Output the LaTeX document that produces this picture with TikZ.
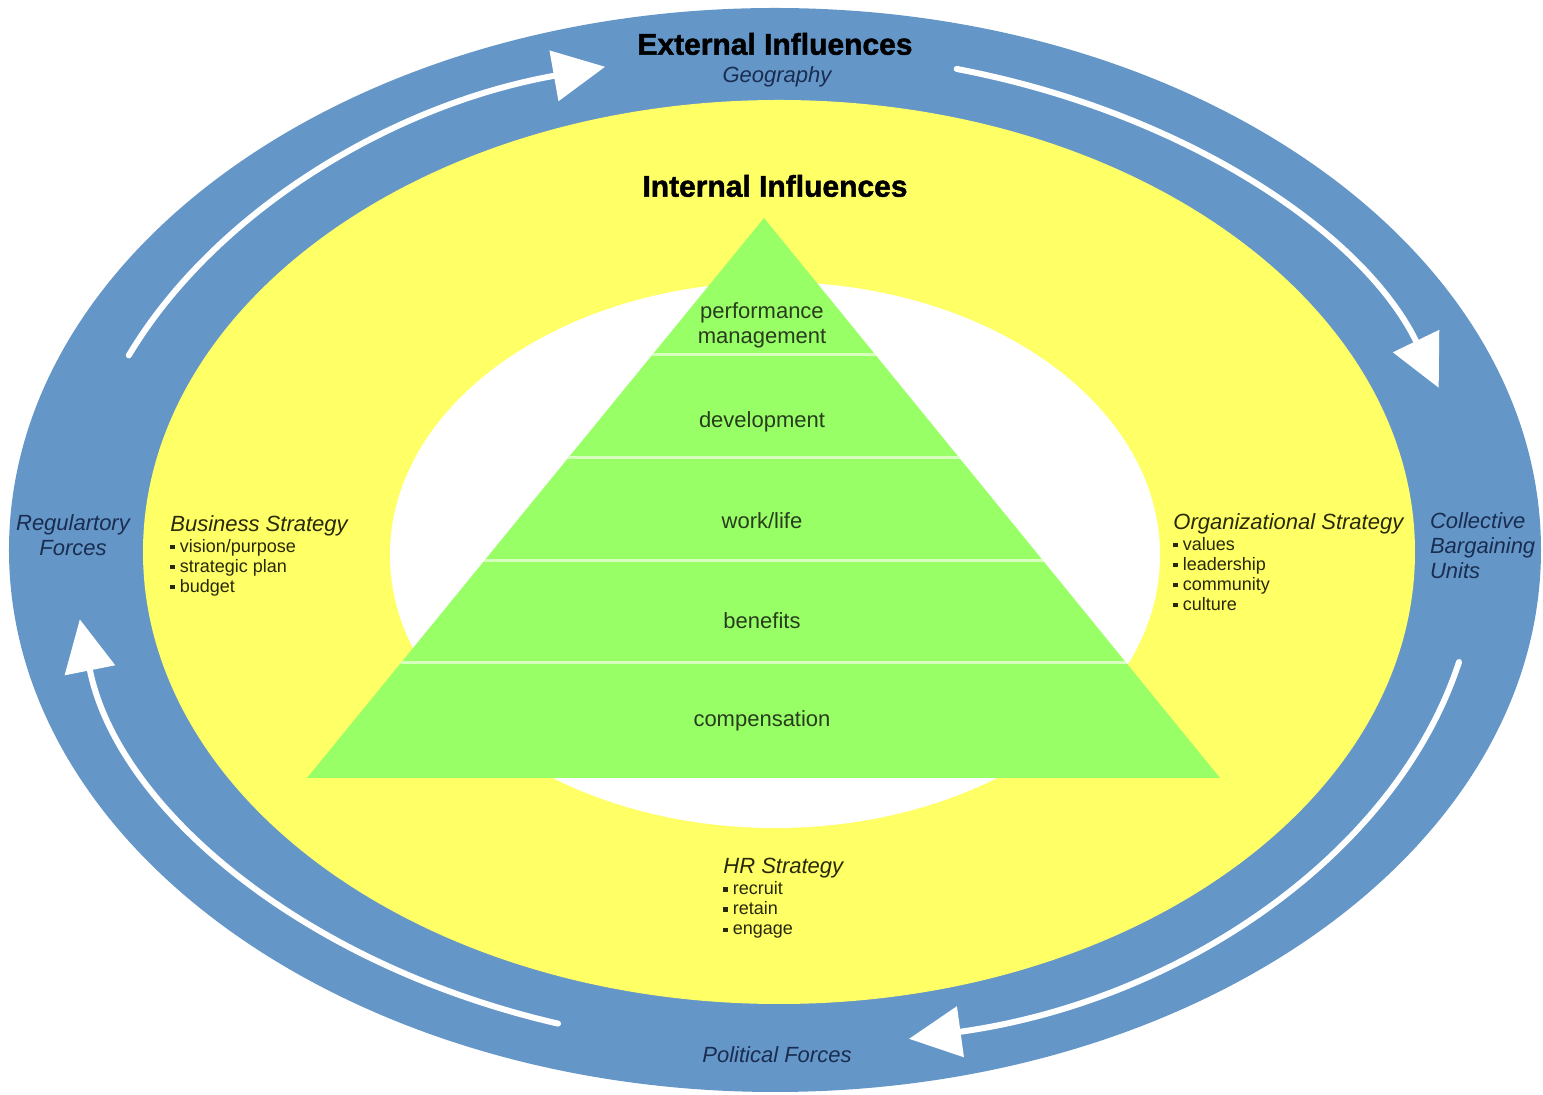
\documentclass[tikz,border=0pt]{standalone}
\usepackage{fontspec}
\setmainfont{Liberation Sans}
\usepackage{xcolor}
\usepackage{tikz}
\usetikzlibrary{arrows.meta}
\usetikzlibrary{calc}

\definecolor{bandblue}{RGB}{100,150,200}
\definecolor{hryellow}{RGB}{255,255,102}
\definecolor{tiergreen}{RGB}{153,255,102}
\definecolor{tierline}{RGB}{215,255,190}
\definecolor{navytext}{RGB}{25,45,80}
\definecolor{olivetext}{RGB}{40,40,10}
\definecolor{greentext}{RGB}{40,60,30}

\newcommand{\sqb}{\rule[0.3ex]{2.2pt}{2.2pt}\hspace{2.5pt}}

\tikzset{
  heading/.style={font=\fontsize{15}{17}\selectfont\bfseries\addfontfeatures{FakeBold=1.5}, text=black},
  bandlabel/.style={font=\fontsize{11}{12.5}\selectfont\itshape, text=navytext, align=center},
  strategy/.style={font=\fontsize{9}{10}\selectfont, text=olivetext, align=left, anchor=north west, inner sep=0pt},
  tier/.style={font=\fontsize{11}{12.5}\selectfont, text=greentext, align=center},
  flow/.style={white, line width=3pt, line cap=round, -{Triangle[length=26pt,width=25pt]}}
}

\begin{document}
\begin{tikzpicture}[x=0.5pt,y=0.5pt]
\useasboundingbox (-775,-545) rectangle (768,550);

\fill[bandblue] (0,0) ellipse [x radius=766, y radius=542];
\fill[hryellow] (4,-2) ellipse [x radius=636, y radius=452];
\fill[white] (0,-5) ellipse [x radius=385, y radius=273];

\draw[flow] (157:702 and 498) arc [start angle=157, end angle=104, x radius=702, y radius=498];
\draw[flow] (75:702 and 498) arc [start angle=75, end angle=19, x radius=702, y radius=498];
\draw[flow] (-13:702 and 498) arc [start angle=-13, end angle=-79, x radius=702, y radius=498];
\draw[flow] (252:702 and 498) arc [start angle=252, end angle=188, x radius=702, y radius=498];

\coordinate (apex) at (-11,332);
\coordinate (bl) at (-468,-228);
\coordinate (br) at (445,-228);
\fill[tiergreen] (apex) -- (bl) -- (br) -- cycle;
\begin{scope}
\clip (apex) -- (bl) -- (br) -- cycle;
\foreach \y in {195,92,-11,-113}
  \draw[tierline, line width=1.5pt] (-500,\y) -- (500,\y);
\end{scope}

\node[tier] (perf) at (-13,225) {performance\\management};
\node[tier] (dev) at (-13,128) {development};
\node[tier] (work) at (-13,29) {work/life};
\node[tier] (ben) at (-13,-71) {benefits};
\node[tier] (comp) at (-13,-171) {compensation};

\node[heading] (ext) at (0,506) {External Influences};
\node[bandlabel] (geo) at (2,473) {Geography};
\node[heading] (intl) at (0,364) {Internal Influences};
\node[bandlabel] (reg) at (-702,15) {Regulartory\\Forces};
\node[bandlabel, align=left, anchor=west] (cbu) at (648,4) {Collective\\Bargaining\\Units};
\node[bandlabel] (pol) at (2,-505) {Political Forces};

\node[strategy] (bus) at (-605,35) {{\fontsize{11}{12}\selectfont\itshape Business Strategy}\\[0.5pt]
  \sqb vision/purpose\\ \sqb strategic plan\\ \sqb budget};
\node[strategy] (org) at (398,37) {{\fontsize{11}{12}\selectfont\itshape Organizational Strategy}\\[0.5pt]
  \sqb values\\ \sqb leadership\\ \sqb community\\ \sqb culture};
\node[strategy] (hr) at (-52,-308) {{\fontsize{11}{12}\selectfont\itshape HR Strategy}\\[0.5pt]
  \sqb recruit\\ \sqb retain\\ \sqb engage};

\end{tikzpicture}
\end{document}
